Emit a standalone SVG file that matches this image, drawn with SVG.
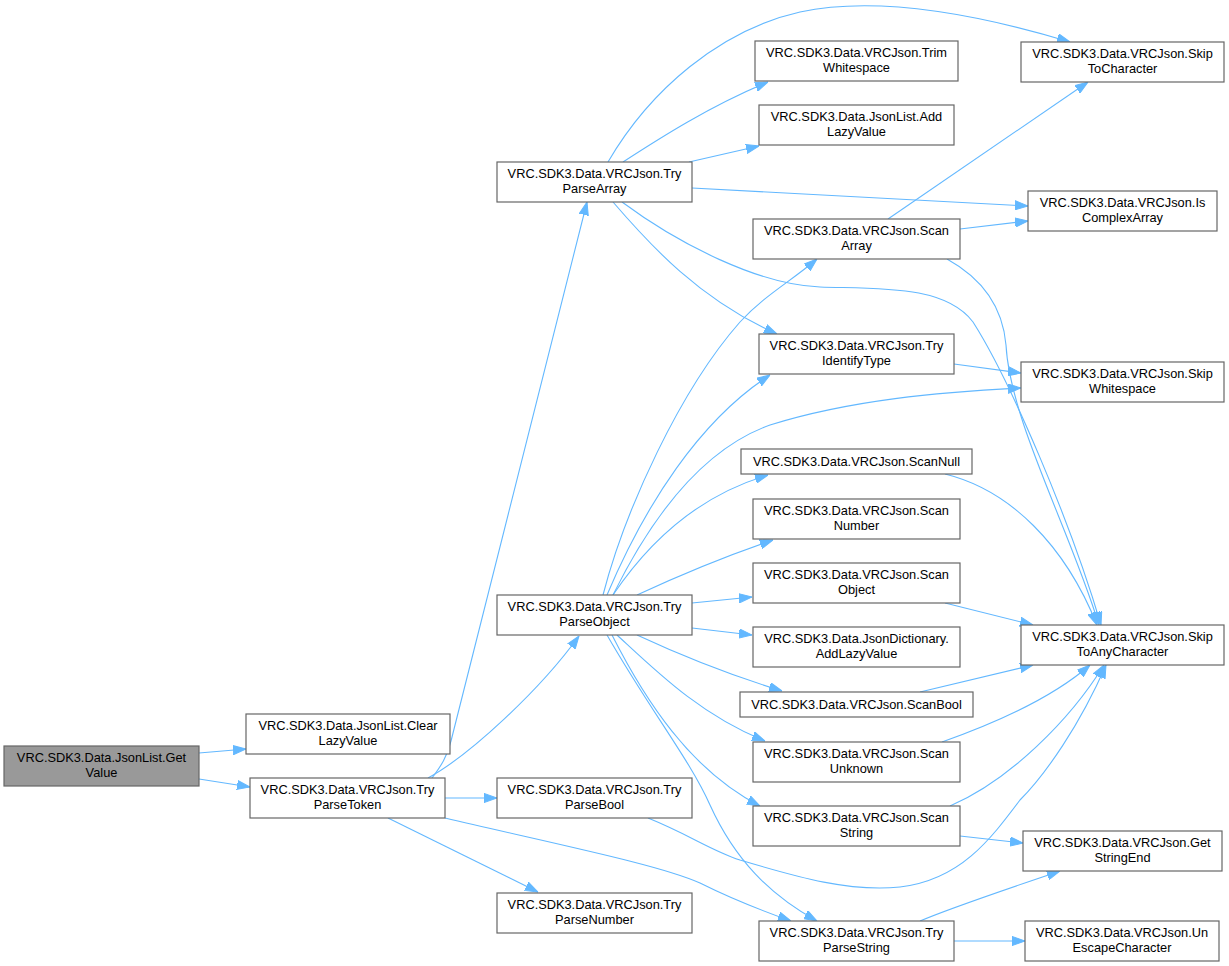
<svg xmlns="http://www.w3.org/2000/svg" width="1229" height="966" viewBox="0 0 1229 966">
<style>
.n rect{fill:#ffffff;stroke:#666666;stroke-width:1.2}
.n.hl rect{fill:#999999}
.n text{font-family:"Liberation Sans",Arial,Helvetica,sans-serif;font-size:12.8px;fill:#000000;text-anchor:middle}
.e path{fill:none;stroke:#63b8ff;stroke-width:1.1;marker-end:url(#ah)}
</style>
<defs>
<marker id="ah" viewBox="0 0 13 10" refX="13" refY="5" markerWidth="13" markerHeight="10" markerUnits="userSpaceOnUse" orient="auto">
<path d="M0,0.4 L13,5 L0,9.6 z" fill="#63b8ff" stroke="#63b8ff" stroke-width="1"/>
</marker>
</defs>
<rect width="1229" height="966" fill="#ffffff"/>
<g id="edges" class="e">
<path d="M199,753 L246,749"/>
<path d="M199,779 L250,787"/>
<path d="M432,778 C441,766 447,757 451,741 L587,202"/>
<path d="M428,778 C470,755 540,690 579,636"/>
<path d="M445,798 L497,798"/>
<path d="M388,818 L538,892"/>
<path d="M445,818 C560,845 660,865 700,883 C730,898 760,910 791,921"/>
<path d="M623,162 C660,138 710,106 768,82"/>
<path d="M689,162 L759,146"/>
<path d="M608,162 C650,90 720,30 800,12 C880,-5 980,15 1070,42"/>
<path d="M692,188 L1028,206"/>
<path d="M613,202 C650,245 700,300 777,334"/>
<path d="M622,202 C680,245 760,285 820,287 C880,289 945,285 973,322 C1010,380 1070,520 1101,625"/>
<path d="M947,259 C985,280 1003,310 1006,345 C1010,420 1070,530 1099,625"/>
<path d="M945,474 C1010,490 1065,545 1097,625"/>
<path d="M945,603 L1033,625"/>
<path d="M920,692 L1033,665"/>
<path d="M942,742 C990,725 1050,700 1090,665"/>
<path d="M950,806 C1010,780 1070,720 1104,665"/>
<path d="M648,818 C690,835 710,850 740,860 C800,878 850,892 900,887 C960,880 990,840 1020,800 C1045,775 1080,725 1106,665"/>
<path d="M960,836 L1023,843"/>
<path d="M920,921 C950,908 1010,888 1060,871"/>
<path d="M954,941 L1025,941"/>
<path d="M888,219 L1088,82"/>
<path d="M960,229 L1028,221"/>
<path d="M954,364 L1021,373"/>
<path d="M613,595 C650,520 700,450 770,425 C850,400 940,392 1021,388"/>
<path d="M603,595 C625,510 680,390 740,322 C765,295 790,282 817,259"/>
<path d="M607,595 C645,505 700,420 770,375"/>
<path d="M613,595 C650,540 700,495 768,475"/>
<path d="M637,595 C680,575 720,558 773,540"/>
<path d="M692,603 L752,597"/>
<path d="M692,628 L752,635"/>
<path d="M637,635 C680,655 730,675 782,691"/>
<path d="M617,635 C655,670 700,715 765,741"/>
<path d="M612,635 C645,700 690,770 760,806"/>
<path d="M607,635 C650,710 690,760 710,805 C735,860 770,895 817,921"/>
</g>
<g id="GetValue" class="n hl"><rect x="4" y="746" width="195" height="40"/><text x="101.5" y="761.5">VRC.SDK3.Data.JsonList.Get</text><text x="101.5" y="776.5">Value</text></g>
<g id="ClearLazyValue" class="n"><rect x="246" y="714" width="204" height="40"/><text x="348" y="729.5">VRC.SDK3.Data.JsonList.Clear</text><text x="348" y="744.5">LazyValue</text></g>
<g id="TryParseToken" class="n"><rect x="250" y="778" width="195" height="40"/><text x="347.5" y="793.5">VRC.SDK3.Data.VRCJson.Try</text><text x="347.5" y="808.5">ParseToken</text></g>
<g id="TryParseArray" class="n"><rect x="497" y="162" width="195" height="40"/><text x="594.5" y="177.5">VRC.SDK3.Data.VRCJson.Try</text><text x="594.5" y="192.5">ParseArray</text></g>
<g id="TryParseObject" class="n"><rect x="497" y="595" width="195" height="40"/><text x="594.5" y="610.5">VRC.SDK3.Data.VRCJson.Try</text><text x="594.5" y="625.5">ParseObject</text></g>
<g id="TryParseBool" class="n"><rect x="497" y="778" width="195" height="40"/><text x="594.5" y="793.5">VRC.SDK3.Data.VRCJson.Try</text><text x="594.5" y="808.5">ParseBool</text></g>
<g id="TryParseNumber" class="n"><rect x="497" y="893" width="195" height="40"/><text x="594.5" y="908.5">VRC.SDK3.Data.VRCJson.Try</text><text x="594.5" y="923.5">ParseNumber</text></g>
<g id="TrimWhitespace" class="n"><rect x="755" y="41" width="203" height="40"/><text x="856.5" y="56.5">VRC.SDK3.Data.VRCJson.Trim</text><text x="856.5" y="71.5">Whitespace</text></g>
<g id="JsonListAddLazyValue" class="n"><rect x="759" y="105" width="195" height="40"/><text x="856.5" y="120.5">VRC.SDK3.Data.JsonList.Add</text><text x="856.5" y="135.5">LazyValue</text></g>
<g id="ScanArray" class="n"><rect x="753" y="219" width="207" height="40"/><text x="856.5" y="234.5">VRC.SDK3.Data.VRCJson.Scan</text><text x="856.5" y="249.5">Array</text></g>
<g id="TryIdentifyType" class="n"><rect x="759" y="334" width="195" height="40"/><text x="856.5" y="349.5">VRC.SDK3.Data.VRCJson.Try</text><text x="856.5" y="364.5">IdentifyType</text></g>
<g id="ScanNull" class="n"><rect x="741" y="449" width="231" height="25"/><text x="856.5" y="465.5">VRC.SDK3.Data.VRCJson.ScanNull</text></g>
<g id="ScanNumber" class="n"><rect x="753" y="499" width="207" height="40"/><text x="856.5" y="514.5">VRC.SDK3.Data.VRCJson.Scan</text><text x="856.5" y="529.5">Number</text></g>
<g id="ScanObject" class="n"><rect x="753" y="563" width="207" height="40"/><text x="856.5" y="578.5">VRC.SDK3.Data.VRCJson.Scan</text><text x="856.5" y="593.5">Object</text></g>
<g id="JsonDictionaryAddLazyValue" class="n"><rect x="753" y="627" width="207" height="40"/><text x="856.5" y="642.5">VRC.SDK3.Data.JsonDictionary.</text><text x="856.5" y="657.5">AddLazyValue</text></g>
<g id="ScanBool" class="n"><rect x="740" y="692" width="233" height="25"/><text x="856.5" y="708.5">VRC.SDK3.Data.VRCJson.ScanBool</text></g>
<g id="ScanUnknown" class="n"><rect x="753" y="742" width="207" height="40"/><text x="856.5" y="757.5">VRC.SDK3.Data.VRCJson.Scan</text><text x="856.5" y="772.5">Unknown</text></g>
<g id="ScanString" class="n"><rect x="753" y="806" width="207" height="40"/><text x="856.5" y="821.5">VRC.SDK3.Data.VRCJson.Scan</text><text x="856.5" y="836.5">String</text></g>
<g id="TryParseString" class="n"><rect x="759" y="921" width="195" height="40"/><text x="856.5" y="936.5">VRC.SDK3.Data.VRCJson.Try</text><text x="856.5" y="951.5">ParseString</text></g>
<g id="SkipToCharacter" class="n"><rect x="1021" y="42" width="203" height="40"/><text x="1122.5" y="57.5">VRC.SDK3.Data.VRCJson.Skip</text><text x="1122.5" y="72.5">ToCharacter</text></g>
<g id="IsComplexArray" class="n"><rect x="1028" y="191" width="189" height="40"/><text x="1122.5" y="206.5">VRC.SDK3.Data.VRCJson.Is</text><text x="1122.5" y="221.5">ComplexArray</text></g>
<g id="SkipWhitespace" class="n"><rect x="1021" y="362" width="203" height="40"/><text x="1122.5" y="377.5">VRC.SDK3.Data.VRCJson.Skip</text><text x="1122.5" y="392.5">Whitespace</text></g>
<g id="SkipToAnyCharacter" class="n"><rect x="1021" y="625" width="203" height="40"/><text x="1122.5" y="640.5">VRC.SDK3.Data.VRCJson.Skip</text><text x="1122.5" y="655.5">ToAnyCharacter</text></g>
<g id="GetStringEnd" class="n"><rect x="1023" y="831" width="199" height="40"/><text x="1122.5" y="846.5">VRC.SDK3.Data.VRCJson.Get</text><text x="1122.5" y="861.5">StringEnd</text></g>
<g id="UnEscapeCharacter" class="n"><rect x="1025" y="921" width="194" height="40"/><text x="1122" y="936.5">VRC.SDK3.Data.VRCJson.Un</text><text x="1122" y="951.5">EscapeCharacter</text></g>
</svg>
